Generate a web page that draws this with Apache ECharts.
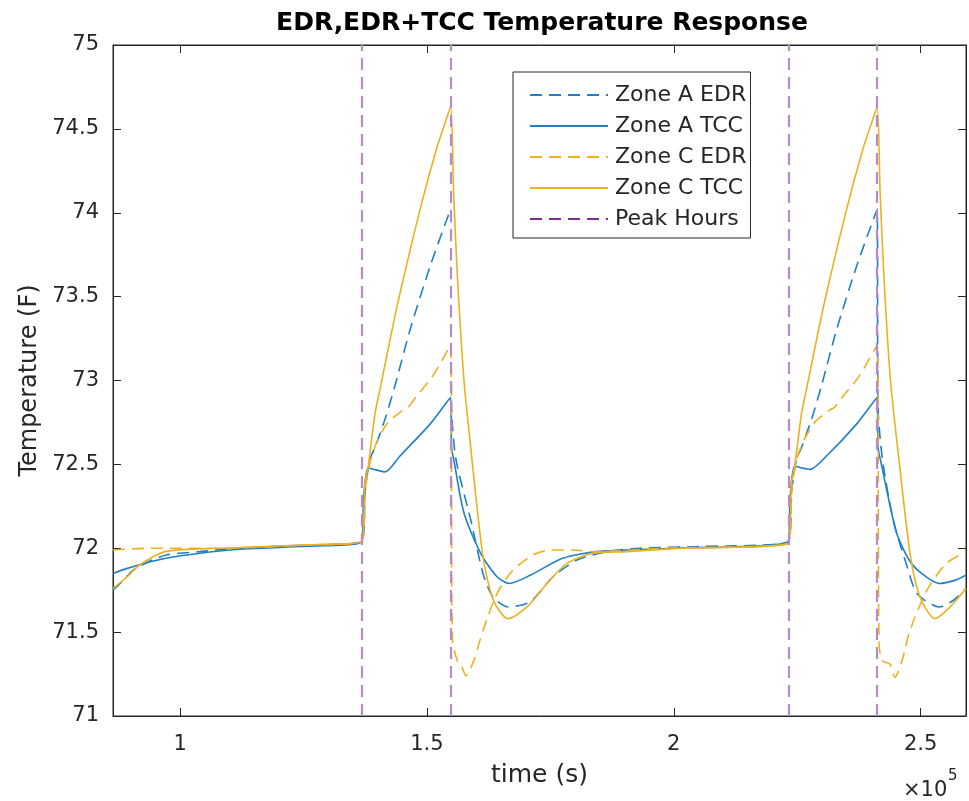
<!DOCTYPE html>
<html>
<head>
<meta charset="utf-8">
<title>EDR,EDR+TCC Temperature Response</title>
<script src="https://cdn.jsdelivr.net/npm/echarts@6/dist/echarts.min.js"></script>
<style>
  html, body { margin: 0; padding: 0; background: #fff; }
  #chart { width: 969px; height: 801px; }
</style>
</head>
<body>
<div id="chart"></div>
<script>
// Time axis in seconds, temperatures in degrees F.
const xTicks = [100000, 150000, 200000, 250000];
const yTicks = [71, 71.5, 72, 72.5, 73, 73.5, 74, 74.5, 75];
const peakHours = [136800, 154800, 223200, 241200];
const seriesNames = ['Zone A EDR', 'Zone A TCC', 'Zone C EDR', 'Zone C TCC', 'Peak Hours'];

const zoneAEdr = [
  [86400, 71.75], [88200, 71.80], [90500, 71.87], [93600, 71.92], [97200, 71.96], [104040, 71.98],
  [111600, 72.00], [126000, 72.02], [136800, 72.04],
  [137520, 72.35], [138456, 72.53], [139464, 72.60], [141516, 72.77], [143532, 72.97], [146556, 73.30],
  [150624, 73.68], [154800, 74.02],
  [154980, 72.84], [155880, 72.53], [158868, 72.17], [161352, 71.85], [163368, 71.71], [166428, 71.65],
  [170892, 71.68], [175536, 71.83], [180396, 71.93], [186480, 71.98], [193176, 72.00], [205200, 72.01],
  [223200, 72.04],
  [223920, 72.35], [224856, 72.53], [225864, 72.60], [227916, 72.77], [229932, 72.97], [232956, 73.30],
  [237024, 73.68], [241200, 74.02],
  [241380, 72.84], [242280, 72.53], [244440, 72.17], [246960, 71.92], [249300, 71.73], [253800, 71.65],
  [256680, 71.69], [259200, 71.76]
];

const zoneATcc = [
  [86400, 71.85], [89280, 71.88], [93960, 71.92], [100080, 71.955], [110160, 71.99], [124200, 72.01],
  [136800, 72.04],
  [137160, 72.30], [138060, 72.48], [139320, 72.47], [141480, 72.455], [144540, 72.55], [150624, 72.74],
  [154800, 72.90],
  [154980, 72.60], [155484, 72.52], [157500, 72.21], [160884, 71.97], [164196, 71.83], [166680, 71.79],
  [171000, 71.84], [177480, 71.94], [184320, 71.98], [199800, 72.00], [223200, 72.04],
  [223560, 72.30], [224460, 72.49], [225720, 72.48], [227592, 72.47], [230940, 72.55], [237024, 72.74],
  [241200, 72.90],
  [241380, 72.60], [241920, 72.52], [245052, 72.10], [247680, 71.93], [250200, 71.85], [253800, 71.79],
  [257040, 71.81], [259200, 71.84]
];

const zoneCEdr = [
  [86400, 71.99], [93600, 72.00], [108000, 72.00], [126000, 72.02], [136800, 72.04],
  [137520, 72.35], [138456, 72.51], [140076, 72.65], [142128, 72.75], [144936, 72.82], [146160, 72.84],
  [147996, 72.91], [151020, 73.02], [154800, 73.21],
  [155160, 71.45], [156276, 71.32], [156960, 71.30], [157896, 71.24], [159480, 71.33], [161352, 71.51],
  [164196, 71.73], [167436, 71.87], [171504, 71.96], [174924, 71.99], [179640, 71.99], [183600, 71.98],
  [198000, 72.00], [223200, 72.03],
  [223920, 72.35], [225000, 72.54], [226476, 72.65], [228528, 72.75], [231336, 72.82], [232560, 72.84],
  [234396, 72.91], [237420, 73.02], [241200, 73.21],
  [241560, 71.45], [242172, 71.33], [243792, 71.31], [244800, 71.23], [246240, 71.33], [247860, 71.51],
  [251280, 71.75], [255240, 71.91], [259200, 71.98]
];

const zoneCTcc = [
  [86400, 71.76], [89280, 71.83], [91800, 71.90], [96948, 71.98], [108000, 72.00], [126000, 72.02],
  [136800, 72.04],
  [137448, 72.39], [138060, 72.48], [139464, 72.80], [140508, 72.95], [142920, 73.30], [144540, 73.52],
  [148608, 74.02], [152028, 74.39], [153720, 74.54], [154800, 74.63],
  [155400, 74.12], [156170, 73.62], [157500, 73.00], [158868, 72.60], [160272, 72.21], [161352, 71.95],
  [162792, 71.75], [164160, 71.65], [166428, 71.58], [170280, 71.65], [174312, 71.79], [178380, 71.91],
  [183600, 71.97], [190440, 71.98], [201600, 72.00], [223200, 72.03],
  [223848, 72.39], [224460, 72.48], [225864, 72.80], [226908, 72.95], [229320, 73.30], [230940, 73.52],
  [235008, 74.02], [238428, 74.39], [240120, 74.54], [241200, 74.63],
  [241800, 74.12], [242570, 73.62], [243900, 73.00], [245844, 72.47], [247860, 71.97], [249876, 71.71],
  [252936, 71.58], [255960, 71.65], [259200, 71.76]
];

const FONT = 'DejaVu Sans';
const INK = '#262626';
const BLUE = '#1f80c8';
const GOLD = '#edb120';
const PURPLE = '#7e2f8e';
const PURPLE_LINE = '#b78bc8';
const DASH = [12, 7];

const chart = echarts.init(document.getElementById('chart'), null, { renderer: 'canvas' });

function curve(name, data, color, dashed) {
  return {
    name: name,
    type: 'line',
    data: data,
    symbol: 'none',
    showSymbol: false,
    smooth: 0.25,
    color: color,
    itemStyle: { color: color, opacity: 0 },
    lineStyle: { color: color, width: 1.6, type: dashed ? DASH : 'solid' },
    emphasis: { disabled: true },
    z: 3
  };
}

const tickStyle = { show: true, inside: true, length: 8, lineStyle: { color: INK, width: 1 } };

const option = {
  animation: false,
  backgroundColor: '#fff',
  title: {
    text: 'EDR,EDR+TCC Temperature Response',
    left: 537,
    top: 6,
    textAlign: 'center',
    textStyle: { fontFamily: FONT, fontSize: 25, fontWeight: 'bold', color: '#000' }
  },
  legend: {
    orient: 'vertical',
    left: 513,
    top: 72,
    padding: [12, 4, 8, 16],
    itemGap: 9,
    itemWidth: 78,
    itemHeight: 18,
    borderColor: INK,
    borderWidth: 1,
    backgroundColor: '#fff',
    selectedMode: false,
    itemStyle: { opacity: 0 },
    data: seriesNames,
    textStyle: { fontFamily: FONT, fontSize: 22, color: INK, lineHeight: 18, padding: [0, 0, 0, 2] }
  },
  grid: {
    left: 113, top: 45, width: 853, height: 671,
    show: true, borderColor: INK, borderWidth: 1, backgroundColor: '#fff'
  },
  xAxis: [
    {
      type: 'value', position: 'bottom', min: 86400, max: 259200,
      name: 'time (s)', nameLocation: 'middle', nameGap: 47,
      nameTextStyle: { fontFamily: FONT, fontSize: 25, color: INK },
      axisLine: { show: true, lineStyle: { color: INK, width: 1 } },
      axisTick: Object.assign({ customValues: xTicks }, tickStyle),
      axisLabel: {
        customValues: xTicks, margin: 18,
        formatter: v => String(v / 100000),
        fontFamily: FONT, fontSize: 21, color: INK
      },
      splitLine: { show: false }
    },
    {
      type: 'value', position: 'top', min: 86400, max: 259200,
      axisLine: { show: true, lineStyle: { color: INK, width: 1 } },
      axisTick: Object.assign({ customValues: xTicks }, tickStyle),
      axisLabel: { show: false },
      splitLine: { show: false }
    }
  ],
  yAxis: [
    {
      type: 'value', position: 'left', min: 71, max: 75, interval: 0.5,
      name: 'Temperature (F)', nameLocation: 'middle', nameGap: 66, nameRotate: 90,
      nameTextStyle: { fontFamily: FONT, fontSize: 24, color: INK },
      axisLine: { show: true, lineStyle: { color: INK, width: 1 } },
      axisTick: Object.assign({ customValues: yTicks }, tickStyle),
      axisLabel: { customValues: yTicks, margin: 14, fontFamily: FONT, fontSize: 21, color: INK },
      splitLine: { show: false }
    },
    {
      type: 'value', position: 'right', min: 71, max: 75, interval: 0.5,
      axisLine: { show: true, lineStyle: { color: INK, width: 1 } },
      axisTick: Object.assign({ customValues: yTicks }, tickStyle),
      axisLabel: { show: false },
      splitLine: { show: false }
    }
  ],
  graphic: [
    { type: 'text', left: 903, top: 780, style: { text: '\u00d710', fontFamily: FONT, fontSize: 21, fill: INK } },
    { type: 'text', left: 948, top: 769, style: { text: '5', fontFamily: FONT, fontSize: 15, fill: INK } }
  ],
  series: [
    curve('Zone A EDR', zoneAEdr, BLUE, true),
    curve('Zone A TCC', zoneATcc, BLUE, false),
    curve('Zone C EDR', zoneCEdr, GOLD, true),
    curve('Zone C TCC', zoneCTcc, GOLD, false),
    {
      name: 'Peak Hours',
      type: 'line',
      data: [],
      symbol: 'none',
      color: PURPLE,
      itemStyle: { color: PURPLE, opacity: 0 },
      lineStyle: { color: PURPLE, width: 1.6, type: DASH },
      markLine: {
        silent: true,
        symbol: 'none',
        animation: false,
        label: { show: false },
        lineStyle: { color: PURPLE_LINE, width: 2.2, type: DASH },
        emphasis: { disabled: true },
        data: peakHours.map(t => ({ xAxis: t }))
      },
      z: 4
    }
  ]
};

chart.setOption(option);
</script>
</body>
</html>
